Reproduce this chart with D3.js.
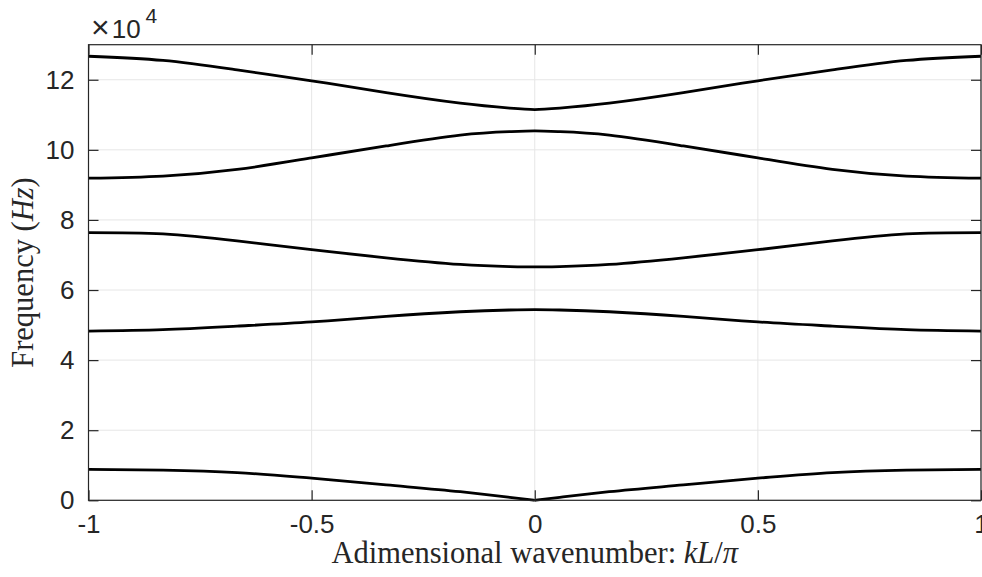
<meta charset="UTF-8">
<script src="https://cdn.jsdelivr.net/npm/d3@7"></script>

<svg id="chart"></svg>

<style>
 body { margin:0; background:#fff; }
 #chart { display:block; }
 .tick text { font-family:"Liberation Sans", Arial, sans-serif; font-size:26px; fill:#262626; }
 .grid line { stroke:#e6e6e6; stroke-width:1; }
 .band { fill:none; stroke:#000; stroke-width:2.8px; }
 .lbl { font-family:"Liberation Serif", "DejaVu Serif", serif; fill:#262626; }
</style>

<script>
 // wavenumber kL/pi
 var k = [-1, -0.833, -0.667, -0.5, -0.333, -0.167, -0.056, 0, 0.056, 0.167, 0.333, 0.5, 0.667, 0.833, 1];

 // frequency of each branch (Hz)
 var band1 = [8800, 8600, 7900, 6300, 4400, 2450, 850, 0, 850, 2450, 4400, 6300, 7900, 8600, 8800];
 var band2 = [48300, 48700, 49700, 50900, 52500, 53800, 54300, 54400, 54300, 53800, 52500, 50900, 49700, 48700, 48300];
 var band3 = [76400, 76000, 74000, 71500, 69200, 67300, 66700, 66600, 66700, 67300, 69200, 71500, 74000, 76000, 76400];
 var band4 = [91900, 92500, 94400, 97700, 101100, 104200, 105200, 105400, 105200, 104200, 101100, 97700, 94400, 92500, 91900];
 var band5 = [126700, 125500, 122800, 119700, 116300, 113300, 111900, 111500, 111900, 113300, 116300, 119700, 122800, 125500, 126700];
 var bands = [band2, band3, band4, band5];

 var xTicks = [-1, -0.5, 0, 0.5, 1];
 var yTicks = [0, 20000, 40000, 60000, 80000, 100000, 120000];

 var W = 982, H = 577;
 var m = {left:88.5, top:44.7, right:1, bottom:76.7};
 var w = W - m.left - m.right, h = H - m.top - m.bottom;

 var svg = d3.select("#chart").attr("width", W).attr("height", H);
 var g = svg.append("g").attr("transform", "translate(" + m.left + "," + m.top + ")");

 var x = d3.scaleLinear().domain([-1, 1]).range([0, w]);
 var y = d3.scaleLinear().domain([0, 130000]).range([h, 0]);

 // grid
 g.append("g").attr("class", "grid").selectAll("line").data(xTicks).enter().append("line")
  .attr("x1", x).attr("x2", x).attr("y1", 0).attr("y2", h);
 g.append("g").attr("class", "grid").selectAll("line").data(yTicks).enter().append("line")
  .attr("y1", y).attr("y2", y).attr("x1", 0).attr("x2", w);

 // curves
 var pts = function (vals) { return vals.map(function (v, i) { return [k[i], v]; }); };
 var line = d3.line()
     .x(function (d) { return x(d[0]); })
     .y(function (d) { return y(d[1]); })
     .curve(d3.curveNatural);
 g.selectAll(".band").data(bands).enter().append("path")
  .attr("class", "band").attr("d", function (d) { return line(pts(d)); });

 // acoustic branch has a cusp at k=0: draw each half on its own
 var half = d3.line()
     .x(function (d) { return x(d[0]); })
     .y(function (d) { return y(d[1]); })
     .curve(d3.curveMonotoneX);
 var p1 = pts(band1);
 g.append("path").attr("class", "band").attr("d", half(p1.slice(0, 8)));
 g.append("path").attr("class", "band").attr("d", half(p1.slice(7)));

 // axes (ticks inward on all four sides)
 function styleAxis(sel) {
     sel.select(".domain").remove();
     sel.selectAll(".tick line").attr("stroke", "#262626").attr("stroke-width", 1.2);
 }
 g.append("g").attr("transform", "translate(0," + h + ")")
  .call(d3.axisBottom(x).tickValues(xTicks).tickSizeInner(-10).tickSizeOuter(0).tickPadding(14)
        .tickFormat(function (d) { return d == 0 ? "0" : d3.format("")(d).replace("−", "-"); }))
  .call(styleAxis);
 g.append("g")
  .call(d3.axisTop(x).tickValues(xTicks).tickSizeInner(-10).tickSizeOuter(0).tickFormat(""))
  .call(styleAxis);
 g.append("g")
  .call(d3.axisLeft(y).tickValues(yTicks).tickSizeInner(-10).tickSizeOuter(0).tickPadding(14)
        .tickFormat(function (d) { return d / 10000; }))
  .call(styleAxis);
 g.append("g").attr("transform", "translate(" + w + ",0)")
  .call(d3.axisRight(y).tickValues(yTicks).tickSizeInner(-10).tickSizeOuter(0).tickFormat(""))
  .call(styleAxis);

 g.selectAll(".tick text").attr("fill", "#262626");

 // box
 g.append("rect").attr("width", w).attr("height", h)
  .attr("fill", "none").attr("stroke", "#262626").attr("stroke-width", 1.2);

 // exponent
 var ex = svg.append("text").attr("x", 91).attr("y", 37.5)
     .style("font-family", "'Liberation Sans', Arial, sans-serif").style("font-size", "26px").attr("fill", "#262626");
 ex.append("tspan").style("font-size", "32px").style("font-weight", "300").text("\u00d7");
 ex.append("tspan").attr("dx", 2).text("10");
 ex.append("tspan").attr("dy", -15).style("font-size", "21px").attr("dx", 5).text("4");

 // axis labels
 var xl = svg.append("text").attr("class", "lbl").attr("x", m.left + w / 2).attr("y", 563)
     .attr("text-anchor", "middle").style("font-size", "30.5px");
 xl.append("tspan").text("Adimensional wavenumber: ");
 xl.append("tspan").style("font-style", "italic").text("kL");
 xl.append("tspan").text("/");
 xl.append("tspan").style("font-style", "italic").text("\u03c0");

 var yl = svg.append("text").attr("class", "lbl")
     .attr("transform", "translate(33," + (m.top + h / 2) + ") rotate(-90)")
     .attr("text-anchor", "middle").style("font-size", "30.5px");
 yl.append("tspan").text("Frequency (");
 yl.append("tspan").style("font-style", "italic").text("Hz");
 yl.append("tspan").text(")");
</script>
